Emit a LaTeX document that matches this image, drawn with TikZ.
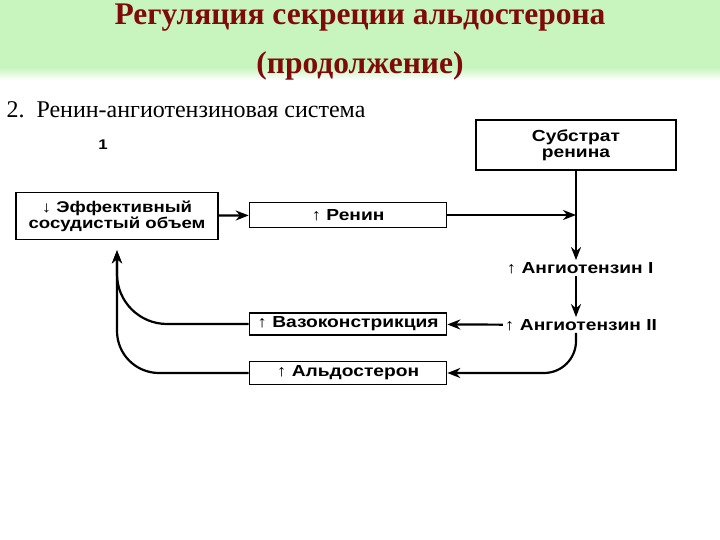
\documentclass[tikz,border=0pt]{standalone}
\usepackage{fontspec}
\setmainfont{Liberation Serif}
\newfontfamily\schemefont[FakeStretch=1.2]{Liberation Sans}
\usetikzlibrary{arrows.meta,positioning,calc}
\definecolor{titlered}{RGB}{128,10,10}
\definecolor{bandgreen}{RGB}{200,245,190}
\tikzset{
  basebox/.style={rectangle,draw=black,line width=1.6pt,align=center,inner sep=2pt,
    font=\schemefont\bfseries\fontsize{16}{16}\selectfont},
  effnode/.style={basebox,minimum width=202pt,minimum height=47pt,
    font=\schemefont\bfseries\fontsize{15.5}{16}\selectfont},
  substnode/.style={basebox,line width=2pt,minimum width=200pt,minimum height=50pt},
  stagenode/.style={basebox,minimum width=197pt,minimum height=23pt},
  labelnode/.style={align=center,inner sep=2pt,font=\schemefont\bfseries\fontsize{16}{16}\selectfont},
  arr/.style={-{Stealth[length=13pt,width=10pt]},line width=2.2pt,color=black},
  curvearr/.style={arr,rounded corners=#1},
  titletext/.style={font=\bfseries\fontsize{31.5}{34}\selectfont,text=titlered}
}
\begin{document}
\begin{tikzpicture}[x=1pt,y=-1pt]
  \useasboundingbox (0,0) rectangle (720,540);
  % title band
  \fill[bandgreen] (0,0) rectangle (720,68);
  \shade[top color=bandgreen,bottom color=white] (0,67.5) rectangle (720,80);
  \node[titletext] (title) at (360,18) {Регуляция секреции альдостерона};
  \node[titletext] (cont) at (360,66) {(продолжение)};
  \node[anchor=west,font=\fontsize{24}{26}\selectfont] (sub) at (3,110)
      {2.\enspace Ренин-ангиотензиновая система};
  \node[labelnode,font=\schemefont\bfseries\fontsize{14}{14}\selectfont] (one) at (103,145) {1};

  % boxes
  \node[substnode] (subst) at (576,145) {Субстрат\\ренина};
  \node[effnode] (eff) at (117,216) {↓ Эффективный\\сосудистый объем};
  \node[stagenode,minimum height=25pt] (renin) at (348,215) {↑ Ренин};
  \node[labelnode] (angI) at (580,268) {↑ Ангиотензин I};
  \node[labelnode] (angII) at (581,325) {↑ Ангиотензин II};
  \node[stagenode,minimum height=22pt] (vaso) at (348,324) {↑ Вазоконстрикция};
  \node[stagenode] (aldo) at (348,373) {↑ Альдостерон};
  \coordinate (join) at (renin.east -| subst.south);

  % connectors
  \draw[arr] (eff) -- (renin);
  \draw[arr] (renin) -- (join);
  \draw[arr] (subst) -- (angI.north -| subst.south);
  \draw[arr] (angI.south -| subst.south) -- (angII.north -| subst.south);
  \draw[arr] (angII) -- (vaso);
  \draw[curvearr=32pt] (angII.south -| subst.south) |- (aldo.east);
  \draw[curvearr=50pt,shorten >=10pt] (vaso.west) -| (eff.south);
  \draw[curvearr=42pt,shorten >=10pt] (aldo.west) -| (eff.south);
\end{tikzpicture}
\end{document}
